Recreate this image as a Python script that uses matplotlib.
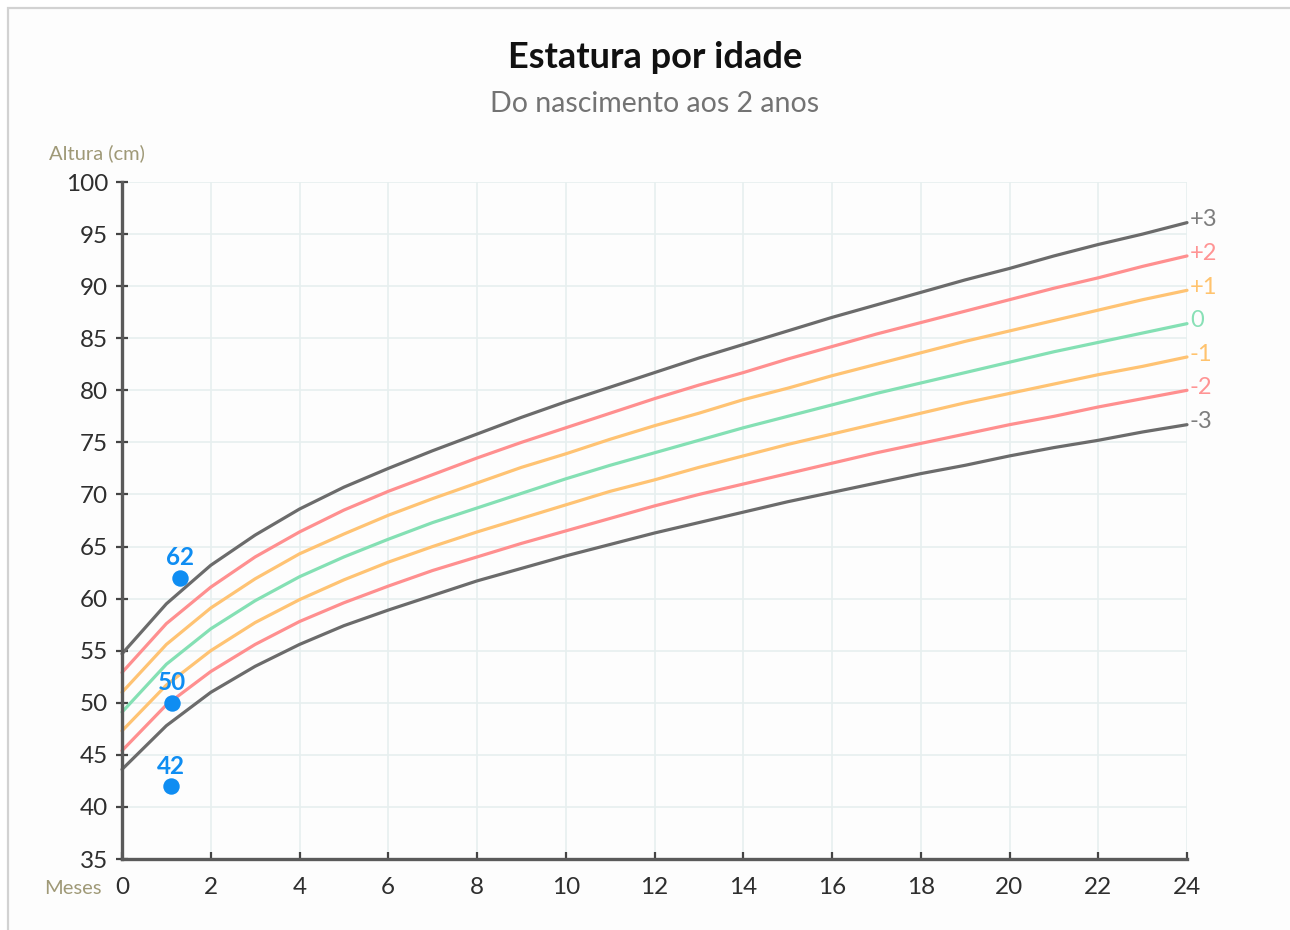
import matplotlib
matplotlib.use("Agg")
import matplotlib.pyplot as plt
from matplotlib.patches import Rectangle

plt.rcParams['font.family'] = ['Lato', 'DejaVu Sans']

# Age in months and length reference curves (z-scores)
months = list(range(0, 25))
z_minus3 = [43.6, 47.8, 51.0, 53.5, 55.6, 57.4, 58.9, 60.3, 61.7, 62.9, 64.1, 65.2, 66.3,
            67.3, 68.3, 69.3, 70.2, 71.1, 72.0, 72.8, 73.7, 74.5, 75.2, 76.0, 76.7]
z_minus2 = [45.4, 49.8, 53.0, 55.6, 57.8, 59.6, 61.2, 62.7, 64.0, 65.3, 66.5, 67.7, 68.9,
            70.0, 71.0, 72.0, 73.0, 74.0, 74.9, 75.8, 76.7, 77.5, 78.4, 79.2, 80.0]
z_minus1 = [47.3, 51.7, 55.0, 57.7, 59.9, 61.8, 63.5, 65.0, 66.4, 67.7, 69.0, 70.3, 71.4,
            72.6, 73.7, 74.8, 75.8, 76.8, 77.8, 78.8, 79.7, 80.6, 81.5, 82.3, 83.2]
z_zero = [49.1, 53.7, 57.1, 59.8, 62.1, 64.0, 65.7, 67.3, 68.7, 70.1, 71.5, 72.8, 74.0,
          75.2, 76.4, 77.5, 78.6, 79.7, 80.7, 81.7, 82.7, 83.7, 84.6, 85.5, 86.4]
z_plus1 = [51.0, 55.6, 59.1, 61.9, 64.3, 66.2, 68.0, 69.6, 71.1, 72.6, 73.9, 75.3, 76.6,
           77.8, 79.1, 80.2, 81.4, 82.5, 83.6, 84.7, 85.7, 86.7, 87.7, 88.7, 89.6]
z_plus2 = [52.9, 57.6, 61.1, 64.0, 66.4, 68.5, 70.3, 71.9, 73.5, 75.0, 76.4, 77.8, 79.2,
           80.5, 81.7, 83.0, 84.2, 85.4, 86.5, 87.6, 88.7, 89.8, 90.8, 91.9, 92.9]
z_plus3 = [54.7, 59.5, 63.2, 66.1, 68.6, 70.7, 72.5, 74.2, 75.8, 77.4, 78.9, 80.3, 81.7,
           83.1, 84.4, 85.7, 87.0, 88.2, 89.4, 90.6, 91.7, 92.9, 94.0, 95.0, 96.1]

curve_labels = ['+3', '+2', '+1', '0', '-1', '-2', '-3']
curve_values = [z_plus3, z_plus2, z_plus1, z_zero, z_minus1, z_minus2, z_minus3]

# Measurements of the child
meas_age = [1.31, 1.13, 1.10]
meas_height = [62, 50, 42]

x_ticks = list(range(0, 25, 2))
y_ticks = list(range(35, 101, 5))

line_colors = {'+3': '#6b6b6b', '+2': '#ff8f8f', '+1': '#ffc373', '0': '#84e0b4',
               '-1': '#ffc373', '-2': '#ff8f8f', '-3': '#6b6b6b'}
label_colors = {'+3': '#7d7d7d', '+2': '#ff9494', '+1': '#ffc36e', '0': '#88e0b6',
                '-1': '#ffc36e', '-2': '#ff9494', '-3': '#7d7d7d'}
point_color = '#0f8df2'

W, H = 1290, 930
fig = plt.figure(figsize=(W / 100, H / 100), dpi=100)
fig.patch.set_facecolor('white')

# outer frame
frame = Rectangle((8 / W, -0.1), 1.2, (H - 8) / H + 0.1, transform=fig.transFigure,
                  facecolor='#fdfdfd', edgecolor='#d2d2d2', linewidth=1.6, zorder=-5)
fig.patches.append(frame)

ax = fig.add_axes([122 / W, 1 - 859 / H, (1187 - 122) / W, (859 - 182) / H])
ax.set_zorder(2)
ax.set_facecolor('none')

for lab, vals in zip(curve_labels, curve_values):
    ax.plot(months, vals, color=line_colors[lab], linewidth=2.3, solid_capstyle='round',
            solid_joinstyle='round', zorder=3, clip_on=False)
    ax.annotate(lab, xy=(months[-1], vals[-1]), xytext=(2, 2), textcoords='offset points',
                ha='left', va='center', fontsize=17, color=label_colors[lab],
                annotation_clip=False)

ax.scatter(meas_age, meas_height, s=140, color=point_color, zorder=5, linewidths=0,
           clip_on=False)
for a, h in zip(meas_age, meas_height):
    ax.annotate(str(h), xy=(a, h), xytext=(0, 6), textcoords='offset points', ha='center',
                va='bottom', fontsize=17.5, fontweight='bold', color=point_color, zorder=6)

ax.set_xlim(0, 24)
ax.set_ylim(35, 100)
ax.set_xticks(x_ticks)
ax.set_yticks(y_ticks)
ax.grid(True, color='#e7efef', linewidth=1.2, zorder=0)
ax.set_axisbelow(True)

for side in ['top', 'right']:
    ax.spines[side].set_visible(False)
for side in ['left', 'bottom']:
    ax.spines[side].set_color('#5a5a5a')
    ax.spines[side].set_linewidth(2.4)
    ax.spines[side].set_zorder(4)

ax.tick_params(axis='y', direction='inout', length=8, width=1.6, color='#444444',
               labelsize=17.5, labelcolor='#2e2e2e', pad=6)
ax.tick_params(axis='x', direction='in', length=5, width=1.6, color='#444444',
               labelsize=17.5, labelcolor='#2e2e2e', pad=13)

fig.text(655 / W, 1 - 58 / H, 'Estatura por idade', ha='center', va='center',
         fontsize=26, fontweight='bold', color='#111111')
fig.text(655 / W, 1 - 104 / H, 'Do nascimento aos 2 anos', ha='center', va='center',
         fontsize=20.5, color='#737373')
fig.text(97 / W, 1 - 153 / H, 'Altura (cm)', ha='center', va='center', fontsize=14.5,
         color='#9f9977')
fig.text(73 / W, 1 - 888 / H, 'Meses', ha='center', va='center', fontsize=14.5,
         color='#9f9977')

fig.savefig('out.png', dpi=100)
